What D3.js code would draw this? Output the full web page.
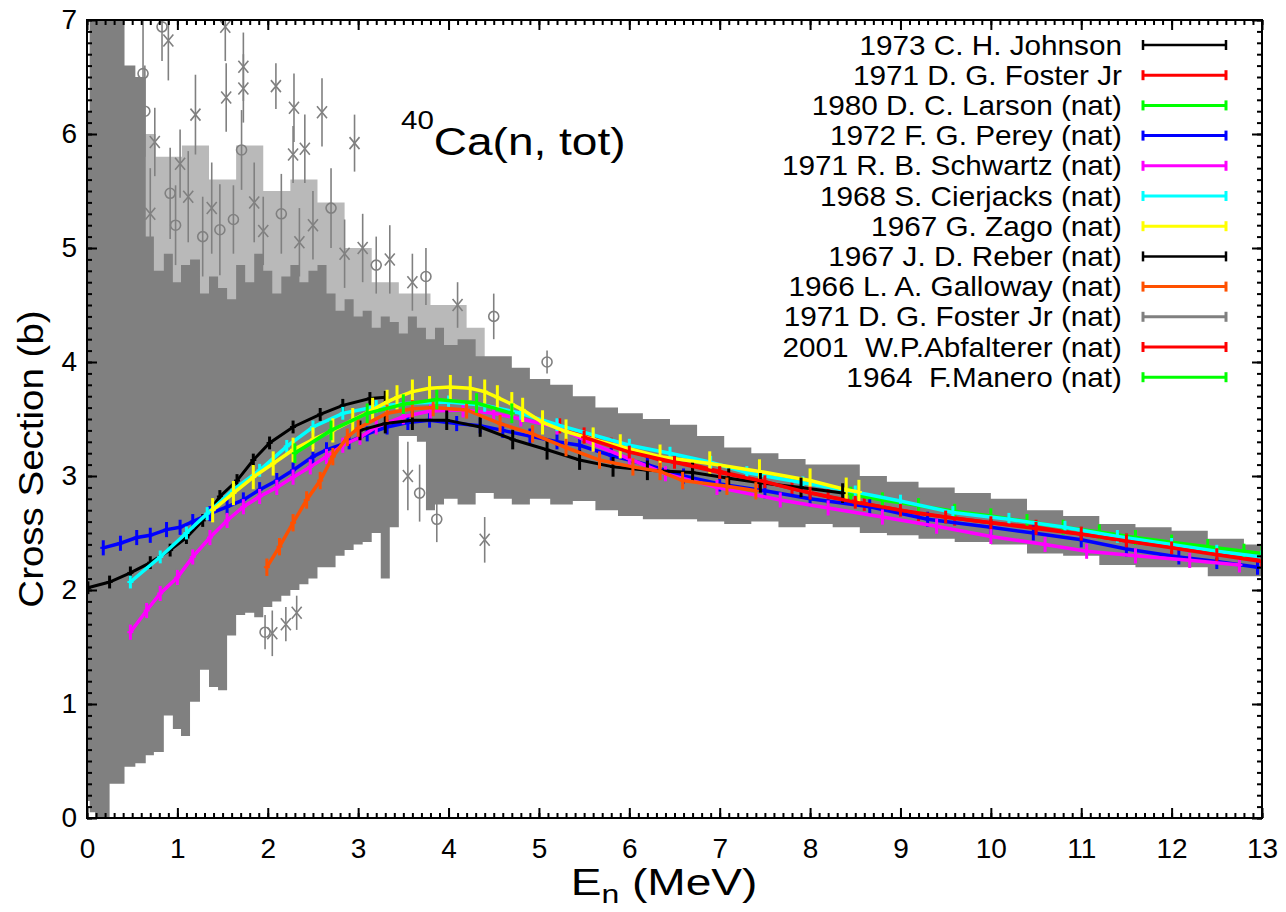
<!DOCTYPE html>
<html>
<head>
<meta charset="utf-8">
<script src="https://cdn.jsdelivr.net/npm/d3@7"></script>
<style>
body{margin:0;background:#fff;}
text{font-family:"Liberation Sans",Arial,Helvetica,sans-serif;fill:#000;white-space:pre;}
</style>
</head>
<body>
<svg id="chart"></svg>
<script>
// ---- data (E in MeV, sigma in b) ----
let legendNames=["1973 C. H. Johnson","1971 D. G. Foster Jr","1980 D. C. Larson (nat)","1972 F. G. Perey (nat)",
"1971 R. B. Schwartz (nat)","1968 S. Cierjacks (nat)","1967 G. Zago (nat)","1967 J. D. Reber (nat)",
"1966 L. A. Galloway (nat)","1971 D. G. Foster Jr (nat)","2001  W.P.Abfalterer (nat)","1964  F.Manero (nat)"];

let xTicks=[0,1,2,3,4,5,6,7,8,9,10,11,12,13];
let yTicks=[0,1,2,3,4,5,6,7];

// gray cloud (many gray data sets) as lower / upper envelope of the dense part
let grayE =[0,0.06,0.12,0.38,0.45,0.62,0.68,0.8,0.9,1.0,1.08,1.2,1.3,1.4,1.5,1.6,1.7,1.8,1.9,2.0,2.1,2.2,2.3,2.4,2.5,2.6,2.7,2.8,2.9,3.0,3.1,3.2,3.3,3.4,3.5,3.6,3.7,3.8,3.9,4.0,4.2,4.4,4.6,4.8,5.0,5.25,5.5,5.75,6.0,6.3,6.6,6.9,7.2,7.5,7.8,8.1,8.4,8.7,9.0,9.4,9.8,10.2,10.6,11.0,11.4,11.8,12.2,12.6,13.0];
let grayLo=[0.15,0.05,0.0,0.3,0.45,0.48,0.55,0.58,0.9,0.78,0.72,1.02,1.3,1.15,1.12,1.6,1.78,1.8,1.76,1.85,1.9,1.95,2.0,2.05,2.1,2.2,2.2,2.3,2.35,2.4,2.42,2.5,2.1,2.55,3.35,3.35,3.3,2.7,2.75,2.8,2.75,2.85,2.8,2.75,2.8,2.75,2.78,2.7,2.65,2.62,2.62,2.6,2.58,2.6,2.55,2.58,2.55,2.5,2.48,2.45,2.42,2.4,2.32,2.3,2.22,2.2,2.2,2.12,2.12];
let grayHi=[6.2,7.0,7.0,7.0,6.6,6.5,5.1,4.8,4.95,4.7,4.85,4.9,4.6,4.75,4.65,4.55,4.85,4.7,4.95,4.8,4.6,4.75,4.85,4.7,4.8,4.85,4.6,4.45,4.55,4.4,4.45,4.3,4.4,4.35,4.25,4.4,4.3,4.2,4.3,4.15,4.2,4.05,4.05,3.95,3.85,3.8,3.7,3.6,3.55,3.5,3.45,3.35,3.25,3.2,3.15,3.1,3.1,3.0,2.95,2.9,2.85,2.8,2.7,2.65,2.58,2.55,2.52,2.45,2.4];

// sparse streaky part above the dense cloud
let sparseE =[0.62,0.9,1.2,1.5,1.8,2.1,2.4,2.7,3.0,3.3,3.6,4.0,4.4];
let sparseHi=[6.0,5.8,5.9,5.6,5.9,5.5,5.6,5.4,5.0,4.7,4.6,4.5,4.3];

// isolated gray points outside the cloud
let outE  =[0.62,0.64,0.75,0.83,0.9,0.92,1.03,1.2,1.47,1.53,1.54,1.71,1.73,1.73,2.09,2.28,2.29,2.41,2.6,2.96,1.97,2.05,2.2,2.32,5.09,4.4,3.87,
            0.7,0.98,1.12,1.28,1.38,1.62,1.85,1.95,2.15,2.35,2.5,2.7,2.85,3.05,3.2,3.35,3.6,3.75,4.1,4.5,3.55,3.68];
let outS  =[6.53,6.2,5.93,6.94,6.82,5.48,5.74,6.17,5.16,6.94,6.32,5.86,6.59,6.4,6.42,5.82,6.23,5.87,6.19,5.92,1.63,1.62,1.7,1.8,4.0,2.44,2.62,
            5.3,5.2,5.45,5.1,5.35,5.25,5.4,5.15,5.3,5.05,5.2,5.35,4.95,5.0,4.85,4.9,4.7,4.75,4.5,4.4,3.0,2.85];
let outErr=[0.5,0.4,0.3,0.3,0.35,0.4,0.3,0.35,0.4,0.3,0.3,0.35,0.3,0.3,0.2,0.25,0.3,0.3,0.3,0.25,0.15,0.2,0.15,0.15,0.1,0.2,0.2,
            0.4,0.35,0.4,0.35,0.4,0.3,0.35,0.3,0.35,0.3,0.3,0.35,0.3,0.3,0.25,0.3,0.25,0.25,0.2,0.2,0.3,0.25];
let outSym=["o","o","x","o","x","o","x","x","o","x","x","o","x","x","x","x","x","x","x","x","o","x","x","x","o","x","o",
            "x","o","x","o","x","o","x","x","o","x","x","o","x","x","o","x","x","o","x","o","x","o"];

let johnsonE=[0.01,0.25,0.48,0.7,0.92,1.1,1.28,1.47,1.66,1.84,2.02,2.28,2.58,2.83,3.13,3.3];
let johnsonS=[2.02,2.07,2.15,2.24,2.35,2.46,2.61,2.82,2.96,3.14,3.29,3.43,3.54,3.62,3.68,3.69];

let fosterE=[5.23,5.5,5.8,6.0,6.34,6.7,7.0,7.44,7.8,8.2,8.6,9.2,9.6,10.0,10.5,11.0,11.5,12.0,12.5,13.0];
let fosterS=[3.44,3.36,3.27,3.22,3.14,3.1,3.04,2.96,2.89,2.82,2.76,2.67,2.63,2.59,2.55,2.49,2.43,2.38,2.32,2.26];

let larsonE=[8.45,8.8,9.2,9.6,10.0,10.4,10.8,11.2,11.6,12.0,12.4,12.8,13.0];
let larsonS=[2.84,2.79,2.74,2.69,2.65,2.6,2.55,2.51,2.46,2.42,2.38,2.34,2.32];

let pereyE=[0.18,0.37,0.55,0.7,0.88,1.03,1.17,1.36,1.55,1.73,1.91,2.1,2.28,2.5,2.65,2.9,3.1,3.32,3.55,3.79,4.09,4.35,4.6,4.9,5.2,5.45,5.8,6.2,6.6,7.0,7.5,8.0,8.66,9.3,10.0,10.47,11.0,11.5,12.08,12.5,12.95];
let pereyS=[2.37,2.41,2.46,2.48,2.53,2.55,2.6,2.67,2.73,2.79,2.88,2.96,3.05,3.17,3.23,3.3,3.37,3.43,3.47,3.49,3.46,3.44,3.4,3.35,3.3,3.27,3.18,3.1,3.0,2.93,2.87,2.8,2.73,2.62,2.55,2.5,2.44,2.36,2.29,2.25,2.2];

let schwartzE=[0.48,0.66,0.81,1.0,1.17,1.36,1.55,1.73,1.91,2.1,2.28,2.47,2.65,2.83,3.02,3.2,3.5,3.8,4.16,4.5,4.8,5.2,5.6,6.0,6.4,6.97,7.67,8.2,8.8,9.4,10.0,10.6,11.06,11.6,12.2,12.75];
let schwartzS=[1.63,1.82,1.97,2.11,2.29,2.46,2.61,2.73,2.82,2.9,2.99,3.08,3.17,3.27,3.34,3.43,3.52,3.57,3.58,3.55,3.5,3.43,3.28,3.15,3.02,2.9,2.79,2.72,2.64,2.56,2.47,2.4,2.34,2.3,2.26,2.22];

let cierjacksE=[0.48,0.81,1.1,1.33,1.62,1.91,2.21,2.5,2.83,3.2,3.6,4.0,4.4,4.8,5.2,5.6,6.0,6.45,6.9,7.3,7.92,8.5,9.0,9.58,10.2,10.82,11.4,12.0,12.5,13.0];
let cierjacksS=[2.07,2.29,2.5,2.67,2.88,3.05,3.26,3.43,3.55,3.61,3.64,3.65,3.62,3.55,3.45,3.36,3.27,3.2,3.12,3.03,2.94,2.86,2.78,2.68,2.62,2.55,2.47,2.4,2.34,2.29];

let zagoE=[1.39,1.62,1.84,2.06,2.28,2.5,2.72,2.94,3.16,3.32,3.43,3.6,3.79,4.02,4.24,4.4,4.54,4.7,4.82,5.04,5.3,5.6,5.9,6.34,6.89,7.44,8.0,8.4,8.54];
let zagoS=[2.7,2.85,2.99,3.11,3.23,3.32,3.4,3.49,3.58,3.65,3.69,3.74,3.77,3.78,3.77,3.74,3.69,3.63,3.58,3.47,3.39,3.32,3.26,3.17,3.11,3.04,2.96,2.88,2.86];

let reberE=[3.02,3.3,3.6,3.98,4.35,4.71,5.09,5.45,5.82,6.2,6.7,7.1,7.45,7.9,8.36];
let reberS=[3.4,3.46,3.49,3.49,3.43,3.32,3.23,3.14,3.08,3.05,3.03,2.98,2.94,2.9,2.85];

let gallowayE=[1.99,2.13,2.28,2.43,2.58,2.72,2.88,3.0,3.32,3.6,3.83,4.2,4.57,4.93,5.3,5.67,6.04,6.34,6.59,7.08,7.4];
let gallowayS=[2.2,2.38,2.59,2.79,2.96,3.17,3.34,3.42,3.55,3.59,3.6,3.58,3.46,3.37,3.25,3.14,3.08,3.04,2.96,2.91,2.87];

let abfaltererE=[5.5,6.0,6.5,7.0,7.5,8.0,8.5,9.0,9.5,10.0,10.5,11.0,11.5,12.0,12.5,13.0];
let abfaltererS=[3.34,3.21,3.12,3.03,2.95,2.85,2.77,2.7,2.64,2.59,2.54,2.49,2.43,2.37,2.31,2.25];

let maneroE=[2.3,2.7,3.1,3.5,3.87,4.31,4.7];
let maneroS=[3.2,3.4,3.55,3.63,3.67,3.64,3.55];

// ---- styles (kept apart from the values) ----
let colors=["#000000","#ff0000","#00ff00","#0000ff","#ff00ff","#00ffff","#ffff00","#000000","#ff5000","#808080","#ff0000","#00ff00"];
let errSize=[0.03,0.04,0.04,0.04,0.04,0.03,0.08,0.06,0.05,0,0.03,0.06];

let seriesData=[[johnsonE,johnsonS],[fosterE,fosterS],[larsonE,larsonS],[pereyE,pereyS],
[schwartzE,schwartzS],[cierjacksE,cierjacksS],[zagoE,zagoS],[reberE,reberS],
[gallowayE,gallowayS],null,[abfaltererE,abfaltererS],[maneroE,maneroS]];

let width=1286, height=912;
let padL=87, padR=1262, padT=20, padB=818;
let stretch=1.1; // the reference font runs a bit wide

let xscale=d3.scaleLinear().domain([0,13]).range([padL,padR]);
let yscale=d3.scaleLinear().domain([0,7]).range([padB,padT]);

let chart=d3.select("#chart").attr("width",width).attr("height",height);

chart.append("defs").append("clipPath").attr("id","clip")
.append("rect").attr("x",padL).attr("y",padT).attr("width",padR-padL).attr("height",padB-padT);

let plot=chart.append("g").attr("clip-path","url(#clip)");

// sparse part of the gray cloud
let sparse=sparseE.map(function(e,i){return {e:e,hi:sparseHi[i]};});
plot.append("path").datum(sparse)
.attr("fill","#808080").attr("fill-opacity",0.55)
.attr("d",d3.area().curve(d3.curveStep).x(d=>xscale(d.e)).y0(yscale(3.9)).y1(d=>yscale(d.hi)));

// dense gray cloud
let band=grayE.map(function(e,i){return {e:e,lo:grayLo[i],hi:grayHi[i]};});
plot.append("path").datum(band)
.attr("fill","#808080")
.attr("d",d3.area().curve(d3.curveStep).x(d=>xscale(d.e)).y0(d=>yscale(d.lo)).y1(d=>yscale(d.hi)));

// gray outliers with error bars
outE.forEach(function(e,i){
  let cx=xscale(e), cy=yscale(outS[i]);
  let g=plot.append("g").attr("stroke","#808080").attr("stroke-width",1.6).attr("fill","none");
  g.append("line").attr("x1",cx).attr("x2",cx).attr("y1",yscale(outS[i]-outErr[i])).attr("y2",yscale(outS[i]+outErr[i]));
  if(outSym[i]=="o"){
    g.append("circle").attr("cx",cx).attr("cy",cy).attr("r",5);
  } else {
    g.append("path").attr("d","M"+(cx-5)+","+(cy-6)+"L"+(cx+5)+","+(cy+6)+"M"+(cx-5)+","+(cy+6)+"L"+(cx+5)+","+(cy-6));
  }
});

// colored series: line + error bars
let line=d3.line().x(d=>xscale(d[0])).y(d=>yscale(d[1]));
seriesData.forEach(function(s,k){
  if(!s) return;
  let pts=s[0].map(function(e,i){return [e,s[1][i]];});
  let g=plot.append("g").attr("stroke",colors[k]).attr("fill","none");
  g.append("path").datum(pts).attr("stroke-width",k==0||k==7?3:3.5).attr("d",line);
  g.selectAll("line.eb").data(pts).enter().append("line")
  .attr("stroke-width",3)
  .attr("x1",d=>xscale(d[0])).attr("x2",d=>xscale(d[0]))
  .attr("y1",d=>yscale(d[1]-errSize[k])+3).attr("y2",d=>yscale(d[1]+errSize[k])-3);
  g.selectAll("line.cap").data(pts).enter().append("line")
  .attr("stroke-width",2)
  .attr("x1",d=>xscale(d[0])-3).attr("x2",d=>xscale(d[0])+3)
  .attr("y1",d=>yscale(d[1])).attr("y2",d=>yscale(d[1]));
});

// ---- axes, ticks inward on all four sides ----
let minorX=d3.range(0,13.001,0.1), minorY=d3.range(0,7.001,0.1);
function axisStyle(g){
  g.select(".domain").remove();
  g.selectAll(".tick line").attr("stroke","#000").attr("stroke-width",2);
  g.selectAll("text").attr("font-family","Liberation Sans, Arial, sans-serif").attr("font-size",28).attr("fill","#000");
}
chart.append("g").attr("transform","translate(0,"+padB+")")
.call(d3.axisBottom(xscale).tickValues(minorX).tickSize(-5).tickFormat("")).call(axisStyle);
chart.append("g").attr("transform","translate(0,"+padB+")")
.call(d3.axisBottom(xscale).tickValues(xTicks).tickSize(-10).tickPadding(20).tickFormat(d3.format("d"))).call(axisStyle);
chart.append("g").attr("transform","translate(0,"+padT+")")
.call(d3.axisTop(xscale).tickValues(minorX).tickSize(-5).tickFormat("")).call(axisStyle);
chart.append("g").attr("transform","translate(0,"+padT+")")
.call(d3.axisTop(xscale).tickValues(xTicks).tickSize(-10).tickFormat("")).call(axisStyle);
chart.append("g").attr("transform","translate("+padL+",0)")
.call(d3.axisLeft(yscale).tickValues(minorY).tickSize(-5).tickFormat("")).call(axisStyle);
chart.append("g").attr("transform","translate("+padL+",0)")
.call(d3.axisLeft(yscale).tickValues(yTicks).tickSize(-10).tickPadding(10).tickFormat(d3.format("d"))).call(axisStyle);
chart.append("g").attr("transform","translate("+padR+",0)")
.call(d3.axisRight(yscale).tickValues(minorY).tickSize(-5).tickFormat("")).call(axisStyle);
chart.append("g").attr("transform","translate("+padR+",0)")
.call(d3.axisRight(yscale).tickValues(yTicks).tickSize(-10).tickFormat("")).call(axisStyle);

chart.append("rect").attr("x",padL).attr("y",padT).attr("width",padR-padL).attr("height",padB-padT)
.attr("fill","none").attr("stroke","#000").attr("stroke-width",2);

// ---- labels ----
let title=chart.append("text").attr("transform","translate(401,155) scale(1.18,1)");
title.append("tspan").attr("font-size",25).attr("dy",-26).text("40");
title.append("tspan").attr("font-size",39).attr("dy",26).text("Ca(n, tot)");

chart.append("text").attr("transform","translate(43,459) rotate(-90) scale("+stretch+",1)")
.attr("text-anchor","middle").attr("font-size",35).text("Cross Section (b)");

let xl=chart.append("text").attr("transform","translate(664,895) scale(1.28,1)")
.attr("text-anchor","middle").attr("font-size",36);
xl.append("tspan").text("E");
xl.append("tspan").attr("font-size",25).attr("dy",8).text("n");
xl.append("tspan").attr("dy",-8).text(" (MeV)");

// ---- legend ----
let legend=chart.append("g");
legendNames.forEach(function(name,i){
  let ly=45+30.2*i;
  legend.append("text").attr("transform","translate(1122,"+(ly+9.5)+") scale("+stretch+",1)")
  .attr("text-anchor","end").attr("font-size",27).text(name);
  let g=legend.append("g").attr("stroke",colors[i]).attr("stroke-width",i==0||i==7?2.5:3);
  g.append("line").attr("x1",1143).attr("x2",1226).attr("y1",ly).attr("y2",ly);
  g.append("line").attr("x1",1143).attr("x2",1143).attr("y1",ly-5).attr("y2",ly+5);
  g.append("line").attr("x1",1226).attr("x2",1226).attr("y1",ly-5).attr("y2",ly+5);
});
</script>
</body>
</html>
